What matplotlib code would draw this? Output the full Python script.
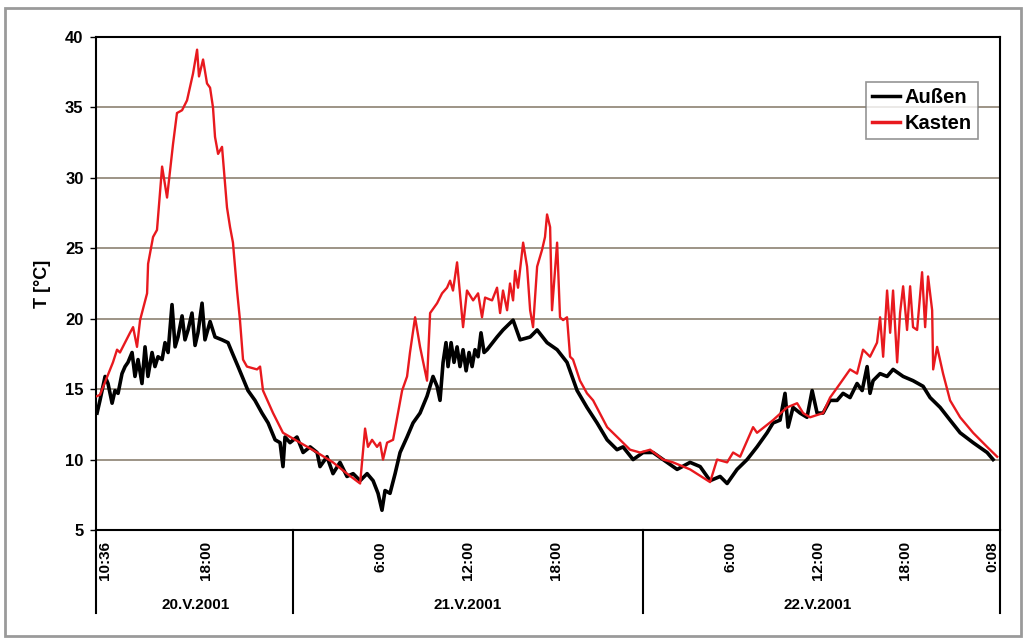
import matplotlib
matplotlib.use("Agg")
import matplotlib.pyplot as plt
import matplotlib.transforms as mtransforms
from matplotlib.patches import Rectangle

plt.rcParams['font.family'] = ['Liberation Sans', 'DejaVu Sans']

# time in hours since 20.V.2001 00:00
kasten_t = [10.56, 10.76, 11.65, 11.93, 12.13, 12.82, 13.03, 13.30, 13.51, 13.99,
            14.06, 14.40, 14.67, 15.02, 15.36, 15.77, 16.04, 16.39, 16.73, 17.14,
            17.42, 17.55, 17.83, 18.10, 18.31, 18.51, 18.65, 18.86, 19.13, 19.47,
            19.68, 19.88, 20.16, 20.36, 20.57, 20.84, 21.53, 21.74, 21.94, 22.63,
            23.31, 24.48, 25.65, 26.74, 27.70, 28.60, 28.94, 29.14, 29.42, 29.76,
            29.97, 30.17, 30.45, 30.86, 31.20, 31.48, 31.82, 32.02, 32.37, 32.71,
            33.19, 33.40, 33.88, 34.22, 34.56, 34.77, 34.97, 35.25, 35.66, 35.93,
            36.35, 36.69, 36.96, 37.17, 37.65, 37.99, 38.20, 38.40, 38.68, 38.88,
            39.09, 39.23, 39.43, 39.78, 40.05, 40.26, 40.46, 40.74, 41.08, 41.28,
            41.42, 41.63, 41.76, 42.11, 42.31, 42.52, 42.79, 43.00, 43.20, 43.68,
            44.16, 44.58, 45.54, 46.43, 47.11, 47.80, 48.49, 49.38, 50.06, 51.23,
            52.60, 53.08, 53.77, 54.18, 54.66, 55.55, 55.82, 56.92, 57.88, 58.57,
            58.98, 59.46, 60.35, 60.83, 61.52, 62.20, 62.68, 63.09, 63.57, 64.05,
            64.26, 64.47, 64.74, 64.95, 65.15, 65.43, 65.63, 65.84, 66.11, 66.32,
            66.52, 66.80, 67.14, 67.35, 67.55, 67.83, 67.90, 68.17, 68.58, 69.06,
            69.75, 70.64, 71.60, 72.29]
kasten = [14.5, 14.6, 16.9, 17.8, 17.6, 19.0, 19.4, 18.0, 19.9, 21.8,
          23.9, 25.8, 26.3, 30.8, 28.6, 32.4, 34.6, 34.8, 35.5, 37.4,
          39.1, 37.2, 38.4, 36.7, 36.4, 35.0, 32.9, 31.7, 32.2, 27.9,
          26.5, 25.4, 22.0, 19.9, 17.1, 16.6, 16.4, 16.6, 14.9, 13.3,
          11.9, 11.2, 10.5, 9.8, 9.0, 8.3, 12.2, 10.9, 11.4, 10.9,
          11.2, 10.0, 11.2, 11.4, 13.3, 14.9, 15.9, 17.6, 20.1, 18.0,
          15.6, 20.4, 21.1, 21.8, 22.2, 22.7, 22.0, 24.0, 19.4, 22.0,
          21.3, 21.8, 20.1, 21.5, 21.3, 22.2, 20.4, 22.0, 20.6, 22.5,
          21.3, 23.4, 22.2, 25.4, 23.7, 20.6, 19.4, 23.7, 24.9, 25.8,
          27.4, 26.5, 20.6, 25.4, 20.1, 19.9, 20.1, 17.3, 17.1, 15.6,
          14.7, 14.2, 12.3, 11.4, 10.7, 10.5, 10.7, 10.0, 9.8, 9.3,
          8.4, 10.0, 9.8, 10.5, 10.2, 12.3, 11.9, 12.8, 13.7, 14.0,
          13.3, 13.0, 13.3, 14.4, 15.4, 16.4, 16.1, 17.8, 17.3, 18.3,
          20.1, 17.3, 22.0, 19.0, 22.0, 16.9, 20.4, 22.3, 19.2, 22.3,
          19.4, 19.2, 23.3, 19.4, 23.0, 20.6, 16.4, 18.0, 16.1, 14.2,
          13.0, 11.9, 10.9, 10.2]

aussen_t = [10.56, 10.76, 11.11, 11.31, 11.59, 11.79, 12.00, 12.27, 12.48, 12.68,
            12.96, 13.16, 13.37, 13.64, 13.85, 14.05, 14.33, 14.53, 14.74, 15.02,
            15.22, 15.43, 15.70, 15.91, 16.11, 16.39, 16.59, 16.80, 17.07, 17.28,
            17.48, 17.76, 17.96, 18.31, 18.65, 19.13, 19.54, 19.82, 20.23, 20.71,
            20.91, 21.39, 21.87, 22.29, 22.77, 23.11, 23.31, 23.45, 23.79, 24.27,
            24.69, 25.17, 25.65, 25.85, 26.33, 26.74, 27.22, 27.70, 28.12, 28.60,
            29.08, 29.49, 29.83, 30.10, 30.31, 30.65, 31.00, 31.34, 31.82, 32.23,
            32.71, 33.19, 33.60, 33.88, 34.08, 34.29, 34.49, 34.63, 34.84, 35.04,
            35.25, 35.45, 35.66, 35.87, 36.07, 36.28, 36.48, 36.69, 36.89, 37.10,
            37.31, 37.99, 38.40, 39.09, 39.57, 40.26, 40.74, 41.42, 42.11, 42.79,
            43.48, 44.16, 44.85, 45.54, 46.22, 46.63, 47.32, 48.01, 48.69, 49.38,
            50.34, 51.23, 51.92, 52.60, 53.29, 53.77, 54.45, 55.14, 55.82, 56.51,
            56.92, 57.40, 57.74, 57.95, 58.29, 58.77, 59.25, 59.60, 59.94, 60.35,
            60.83, 61.31, 61.72, 62.20, 62.68, 63.03, 63.37, 63.57, 63.78, 64.26,
            64.74, 65.15, 65.84, 66.52, 67.21, 67.69, 68.38, 69.06, 69.75, 70.64,
            71.60, 72.01]
aussen = [13.3, 14.2, 15.9, 15.4, 14.0, 14.9, 14.7, 16.1, 16.6, 16.9,
          17.6, 15.9, 17.1, 15.4, 18.0, 15.9, 17.6, 16.6, 17.3, 17.1,
          18.3, 17.6, 21.0, 18.0, 18.7, 20.2, 18.5, 19.2, 20.4, 18.1,
          19.0, 21.1, 18.5, 19.8, 18.7, 18.5, 18.3, 17.6, 16.6, 15.4,
          14.9, 14.2, 13.3, 12.6, 11.4, 11.2, 9.5, 11.6, 11.2, 11.6,
          10.5, 10.9, 10.5, 9.5, 10.2, 9.0, 9.8, 8.8, 9.0, 8.5,
          9.0, 8.5, 7.6, 6.4, 7.8, 7.6, 9.0, 10.5, 11.6, 12.6,
          13.3, 14.5, 15.9, 15.2, 14.2, 16.9, 18.3, 16.6, 18.3, 16.9,
          18.0, 16.6, 17.8, 16.3, 17.6, 16.6, 17.8, 17.3, 19.0, 17.6,
          17.8, 18.7, 19.2, 19.9, 18.5, 18.7, 19.2, 18.3, 17.8, 16.9,
          14.9, 13.7, 12.6, 11.4, 10.7, 10.9, 10.0, 10.5, 10.5, 10.0,
          9.3, 9.8, 9.5, 8.5, 8.8, 8.3, 9.3, 10.0, 10.9, 11.9,
          12.6, 12.8, 14.7, 12.3, 13.7, 13.3, 13.0, 14.9, 13.3, 13.3,
          14.2, 14.2, 14.7, 14.4, 15.4, 14.9, 16.6, 14.7, 15.6, 16.1,
          15.9, 16.4, 15.9, 15.6, 15.2, 14.4, 13.7, 12.8, 11.9, 11.2,
          10.5, 10.0]

tick_hours = [11.1, 18, 30, 36, 42, 54, 60, 66, 71.95]
tick_labels = ['10:36', '18:00', '6:00', '12:00', '18:00', '6:00', '12:00', '18:00', '0:08']
day_bounds = [10.49, 24, 48, 72.49]
day_names = ['20.V.2001', '21.V.2001', '22.V.2001']
day_centers = [17.3, 36, 60]

fig = plt.figure(figsize=(10.25, 6.41), dpi=100)
ax = fig.add_axes([0.0937, 0.1732, 0.882, 0.7691])

grid_col = '#8c8272'
for v in range(10, 40, 5):
    ax.axhline(v, color=grid_col, lw=1.2, zorder=1)

ax.plot(aussen_t, aussen, color='black', lw=2.6, label='Außen', zorder=3)
ax.plot(kasten_t, kasten, color='#e8191e', lw=1.7, label='Kasten', zorder=4)

ax.set_xlim(day_bounds[0], day_bounds[-1])
ax.set_ylim(5, 40)
ax.set_yticks(range(5, 41, 5))
ax.tick_params(axis='y', length=4, width=1, pad=5, labelsize=12)
for lab in ax.get_yticklabels():
    lab.set_fontweight('bold')

ax.set_xticks(tick_hours)
ax.set_xticklabels(tick_labels, rotation=90, fontweight='bold', fontsize=11, va='top')
ax.tick_params(axis='x', length=0, pad=8)

for s in ax.spines.values():
    s.set_linewidth(1.5)
    s.set_color('black')

ax.set_ylabel('T [°C]', fontsize=13, fontweight='bold', labelpad=10)

trans = mtransforms.blended_transform_factory(ax.transData, ax.transAxes)
for xb in day_bounds:
    ax.plot([xb, xb], [0, -0.168], color='black', lw=1.5, transform=trans, clip_on=False)
for xc, name in zip(day_centers, day_names):
    ax.text(xc, -0.152, name, transform=trans, ha='center', va='center',
            fontsize=11, fontweight='bold')

leg = ax.legend(loc='upper right', bbox_to_anchor=(0.9757, 0.909), fontsize=14.5,
                frameon=True, fancybox=False, handlelength=1.4, handletextpad=0.25,
                borderpad=0.3, labelspacing=0.35, borderaxespad=0)
leg.get_frame().set_edgecolor('#7a7a7a')
leg.get_frame().set_linewidth(1.2)
for txt in leg.get_texts():
    txt.set_fontweight('bold')
for ln in leg.get_lines():
    ln.set_linewidth(2.5)

fig.patches.append(Rectangle((0.005, 0.008), 0.991, 0.979, transform=fig.transFigure,
                             fill=False, edgecolor='#9a9a9a', lw=2))

fig.savefig('out.png', dpi=100)
